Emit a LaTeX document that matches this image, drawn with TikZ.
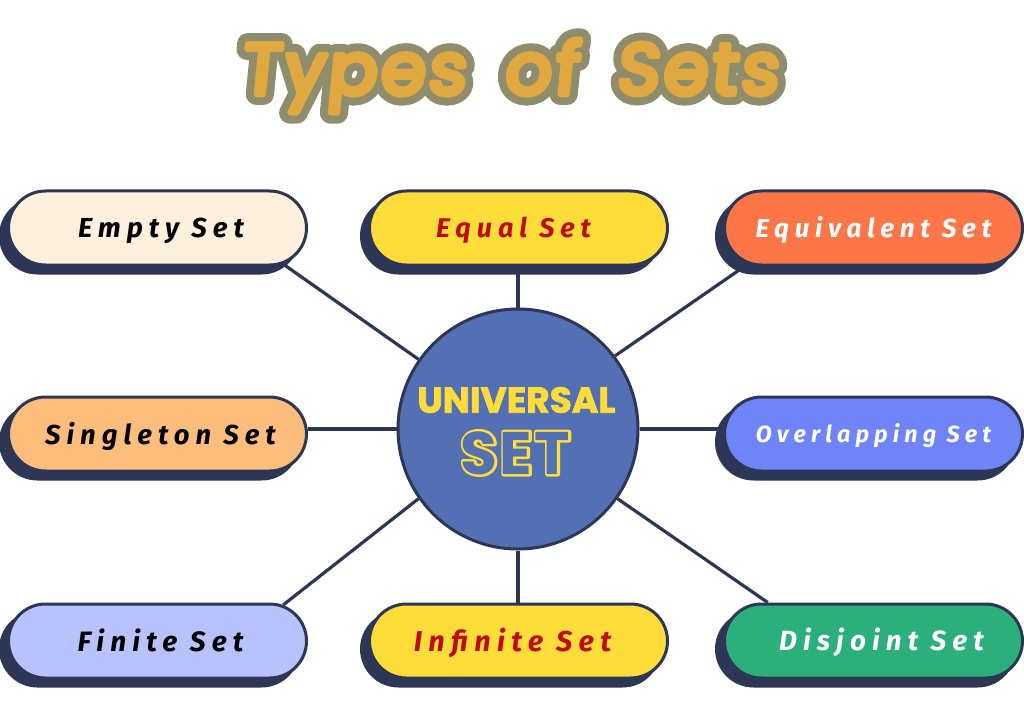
\documentclass[tikz,border=0pt]{standalone}
\usepackage{fontspec}
\usetikzlibrary{shapes.misc,shadows,backgrounds}
\setmainfont{Fira Sans}
\newfontfamily\pilltext[LetterSpace=22]{Fira Sans}
\newfontfamily\titletext[LetterSpace=5,WordSpace=1.7,FakeSlant=0.1,FakeBold=8]{Poppins}
\newfontfamily\titleouter[LetterSpace=5,WordSpace=1.7,FakeSlant=0.1,FakeBold=30]{Poppins}
\newfontfamily\hubtext[FakeBold=2]{Poppins}
\newfontfamily\hubinner[LetterSpace=4]{Poppins}
\newfontfamily\hubouter[LetterSpace=4,FakeBold=8]{Poppins}
\definecolor{ink}{HTML}{2D3655}
\definecolor{hub}{HTML}{5370B5}
\definecolor{titlefill}{HTML}{E0A840}
\definecolor{titleedge}{HTML}{8F8D6B}
\definecolor{hubyellow}{HTML}{FEDD3A}
\definecolor{setred}{HTML}{C00A0A}
\newcommand{\roundglyphs}{\special{pdf:code 1 j}}
\tikzset{
	pill/.style={rounded rectangle, draw=ink, line width=3pt, minimum width=298pt, minimum height=74pt,
		inner sep=0pt, copy shadow={shadow xshift=-8pt, shadow yshift=-8pt, fill=ink, draw=ink}},
	link/.style={draw=ink, line width=3.2pt},
}
\begin{document}
\begin{tikzpicture}[x=1pt,y=-1pt]
	\useasboundingbox (0,0) rectangle (1024,711);
	\node [circle, draw=ink, line width=3pt, fill=hub, minimum size=240pt, inner sep=0pt] (hub) at (518,429) {};
	\foreach \nm/\x/\y/\col/\txt/\tx/\ty/\sz/\lab in {
		empty/157.5/228/FDF0DC/black/161/231/27.5/Empty Set,
		equal/518.5/228/FEDD3A/setred/513.5/230/27/Equal Set,
		equiv/873.5/228/FD7648/white/873.5/230/26/Equivalent Set,
		single/157.5/434/FDBD7C/black/160.5/436/27.4/Singleton Set,
		overlap/873.5/434/6F84F7/white/873.5/436/23.3/Overlapping Set,
		finite/157.5/641/B8C2FD/black/160.5/640/28/Finite Set,
		infinite/518.5/641/FEDD3A/setred/512.5/643/28.8/Infinite Set,
		disjoint/873.5/641/2BB07C/white/881.5/642/27.8/Disjoint Set}{
		\definecolor{pillcol}{HTML}{\col}
		\node [pill, fill=pillcol] (\nm) at (\x,\y) {};
		\node [text=\txt, font=\pilltext\bfseries\itshape\fontsize{\sz}{\sz}\selectfont] (\nm txt) at (\tx,\ty) {\lab};
	}
	% links sit behind the pills and the hub
	\begin{pgfonlayer}{background}
		\draw [link] (hub.145) -- (empty.-16);
		\draw [link] (hub.north) -- (hub.north |- equal.south);
		\draw [link] (hub.37) -- (equiv.-164.5);
		\draw [link] (hub.west) -- (hub.west -| single.east);
		\draw [link] (hub.east) -- (hub.east -| overlap.west);
		\draw [link] (hub.215) -- (finite.16);
		\draw [link] (hub.south) -- (hub.south |- infinite.north);
		\draw [link] (hub.-35.6) -- (disjoint.160.7);
	\end{pgfonlayer}
	\node [text=hubyellow, font=\hubtext\bfseries\fontsize{36}{36}\selectfont] (univ) at (516.5,400) {UNIVERSAL};
	\node [text=hubyellow, font=\hubouter\bfseries\fontsize{60}{60}\selectfont] (setouter) at (515.5,453) {\roundglyphs SET};
	\node [text=hub, font=\hubinner\bfseries\fontsize{60}{60}\selectfont] (setinner) at (515.5,453) {SET};
	\node [text=titleedge, font=\titleouter\fontsize{72}{72}\selectfont] (titleback) at (509,76) {\roundglyphs Types of Sets};
	\node [text=titlefill, font=\titletext\fontsize{72}{72}\selectfont] (title) at (509,76) {\roundglyphs Types of Sets};
\end{tikzpicture}
\end{document}
